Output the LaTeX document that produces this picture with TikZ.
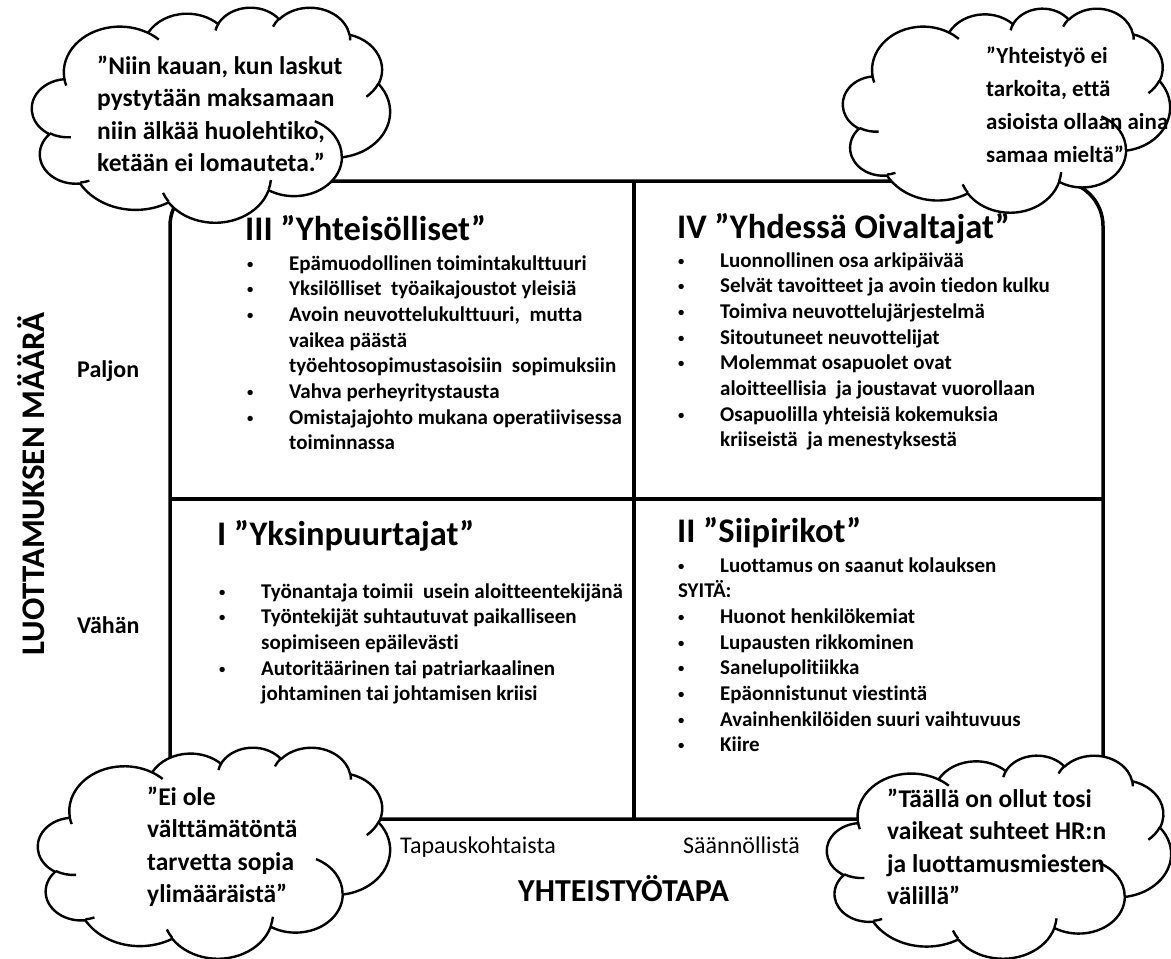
\documentclass[tikz,border=0pt]{standalone}
\usepackage{fontspec}
\usepackage{graphicx}
\setmainfont{Carlito}[Ligatures=NoCommon]
\newcommand\pa[4]{arc[x radius=#1, y radius=#2, start angle={atan2((#1)*sin(#3),(#2)*cos(#3))}, delta angle={mod(atan2((#1)*sin((#3)+(#4)),(#2)*cos((#3)+(#4)))-atan2((#1)*sin(#3),(#2)*cos(#3))+720,360)}]}
\newcommand\cloudat[4]{%
  \pgfmathsetmacro\cldx{#3/432}\pgfmathsetmacro\cldy{#4/432}%
  \begin{scope}[shift={(#1,#2)}, x=\cldx pt, y=-\cldy pt]
    \draw[cloudline, fill=white] (39.00,143.70) \pa{67.53}{91.90}{-190.4875}{123.7805}
      \pa{53.33}{72.67}{-144.1024}{89.9452} \pa{43.65}{59.45}{-145.8079}{99.7230}
      \pa{48.57}{65.95}{-130.9861}{117.2417} \pa{53.33}{72.73}{-78.7089}{109.0269}
      \pa{67.75}{92.20}{-46.2673}{130.2690} \pa{57.85}{78.67}{0.6250}{114.0333}
      \pa{67.52}{92.15}{22.4516}{115.1726} \pa{77.20}{105.43}{66.2426}{75.7110}
      \pa{43.60}{59.18}{-274.9421}{146.7356} \pa{43.45}{59.45}{-246.8285}{152.5189} -- cycle;
    \draw[cloudline] (46.93,261.77) \pa{43.45}{59.45}{86.7420}{26.4295}
      (69.28,348.99) \pa{43.60}{59.18}{73.6105}{11.4475}
      (164.78,390.90) \pa{67.52}{92.15}{137.6242}{14.0811}
      (288.27,347.51) \pa{67.52}{92.15}{6.4533}{15.9984}
      (341.29,229.54) \pa{57.85}{78.67}{-70.2924}{70.9174}
      (417.98,153.54) \pa{53.33}{72.73}{30.3180}{27.7515}
      (383.24,54.26) \pa{48.57}{65.95}{-13.7443}{14.8589}
      (290.78,39.52) \pa{48.57}{65.95}{-149.1815}{18.1954}
      (221.41,47.20) \pa{43.65}{59.45}{-163.4943}{17.6864}
      (140.00,51.92) \pa{67.53}{91.90}{-66.7070}{12.3194}
      (41.27,157.89) \pa{67.53}{91.90}{157.6544}{11.8582};
  \end{scope}}
\newcommand\ml[1]{\begin{tabular}[t]{@{}l@{}}#1\end{tabular}}
\newcommand\bu{\makebox[42pt][l]{\raisebox{2pt}{\scalebox{0.6}{•}}}}
\newcommand\ind{\hspace*{42pt}}
\tikzset{
  frame/.style={line width=3.5pt, draw=black},
  cloudline/.style={line width=2.4pt, draw=black, line join=round},
  txt/.style={anchor=base west, inner sep=0pt, text=black},
  cloudtxt/.style={txt, font=\fontsize{25.5}{32.5}\selectfont\bfseries},
  cloudtxtb/.style={txt, font=\fontsize{23}{33}\selectfont\bfseries},
  qtitle/.style={txt, font=\fontsize{34.5}{40}\selectfont\bfseries},
  qlist/.style={txt, font=\fontsize{21}{25.7}\selectfont\bfseries},
  axistitle/.style={inner sep=0pt, text=black, font=\fontsize{33}{38}\selectfont\bfseries},
  level/.style={txt, font=\fontsize{24}{28}\selectfont\bfseries},
  kind/.style={txt, font=\fontsize{24}{28}\selectfont}
}
\begin{document}
\begin{tikzpicture}[x=1pt, y=-1pt]
\useasboundingbox[fill=white] (0,0) rectangle (1171,959);
% frame and dividers
\draw[frame, rounded corners=45pt] (170,181) rectangle (1103,819);
\coordinate (vt) at (634,181); \coordinate (vb) at (634,819);
\coordinate (hl) at (170,499); \coordinate (hr) at (1103,499);
\draw[frame] (vt) -- (vb);
\draw[frame] (hl) -- (hr);
% clouds
\cloudat{32}{7}{358}{215}
\cloudat{843}{8}{327}{204}
\cloudat{38}{747}{352}{211}
\cloudat{827}{755}{344}{203}
\node[cloudtxt] (c1) at (97,74) {\ml{”Niin kauan, kun laskut\\pystytään maksamaan\\niin älkää huolehtiko,\\ketään ei lomauteta.”}};
\node[cloudtxtb] (c2) at (986,63) {\ml{”Yhteistyö ei\\tarkoita, että\\asioista ollaan aina\\samaa mieltä”}};
\node[cloudtxt] (c3) at (147,805) {\ml{”Ei ole\\välttämätöntä\\tarvetta sopia\\ylimääräistä”}};
\node[cloudtxt] (c4) at (887,807) {\ml{”Täällä on ollut tosi\\vaikeat suhteet HR:n\\ja luottamusmiesten\\välillä”}};
% quadrant III
\node[qtitle] (t3) at (245,240) {III ”Yhteisölliset”};
\node[qlist] (l3) at (247,270) {\ml{\bu Epämuodollinen toimintakulttuuri\\\bu Yksilölliset~ työaikajoustot yleisiä\\\bu Avoin neuvottelukulttuuri,~ mutta\\\ind vaikea päästä\\\ind työehtosopimustasoisiin~ sopimuksiin\\\bu Vahva perheyritystausta\\\bu Omistajajohto mukana operatiivisessa\\\ind toiminnassa}};
% quadrant IV
\node[qtitle] (t4) at (677,238) {IV ”Yhdessä Oivaltajat”};
\node[qlist] (l4) at (678,267) {\ml{\bu Luonnollinen osa arkipäivää\\\bu Selvät tavoitteet ja avoin tiedon kulku\\\bu Toimiva neuvottelujärjestelmä\\\bu Sitoutuneet neuvottelijat\\\bu Molemmat osapuolet ovat\\\ind aloitteellisia~ ja joustavat vuorollaan\\\bu Osapuolilla yhteisiä kokemuksia\\\ind kriiseistä~ ja menestyksestä}};
% quadrant I
\node[qtitle] (t1) at (217,545) {I ”Yksinpuurtajat”};
\node[qlist] (l1) at (219,598) {\ml{\bu Työnantaja toimii~ usein aloitteentekijänä\\\bu Työntekijät suhtautuvat paikalliseen\\\ind sopimiseen epäilevästi\\\bu Autoritäärinen tai patriarkaalinen\\\ind johtaminen tai johtamisen kriisi}};
% quadrant II
\node[qtitle] (t2) at (677,542) {II ”Siipirikot”};
\node[qlist] (l2) at (678,572) {\ml{\bu Luottamus on saanut kolauksen\\SYITÄ:\\\bu Huonot henkilökemiat\\\bu Lupausten rikkominen\\\bu Sanelupolitiikka\\\bu Epäonnistunut viestintä\\\bu Avainhenkilöiden suuri vaihtuvuus\\\bu Kiire}};
% axes
\node[axistitle, anchor=base, rotate=90] (ya) at (45,484) {LUOTTAMUKSEN MÄÄRÄ};
\node[level] (hi) at (77,377) {Paljon};
\node[level] (lo) at (77,633) {Vähän};
\node[kind] (k1) at (400,853) {Tapauskohtaista};
\node[kind] (k2) at (683,853) {Säännöllistä};
\node[axistitle, anchor=base west, font=\fontsize{32}{38}\selectfont\bfseries] (xa) at (518,901) {YHTEISTYÖTAPA};
\end{tikzpicture}
\end{document}
